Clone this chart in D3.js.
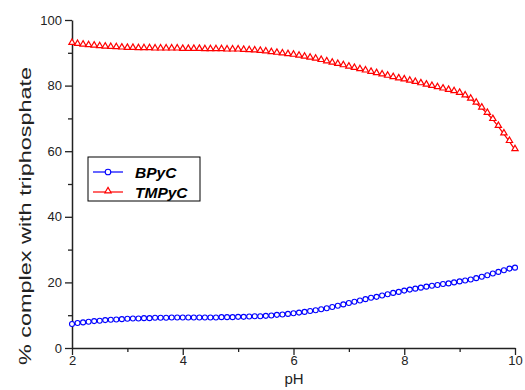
<!DOCTYPE html>
<html><head><meta charset="utf-8">
<script src="https://cdn.jsdelivr.net/npm/d3@7"></script>
<style>body{margin:0;background:#fff}svg{display:block}text{font-family:"Liberation Sans",Arial,sans-serif}</style>
</head><body><svg id="c" width="525" height="390"></svg>
<script>
const phStart = 2, phStep = 0.1;
const tmpyc = [92.8,92.5,92.3,92.1,92.0,91.8,91.7,91.6,91.5,91.4,
 91.3,91.3,91.2,91.2,91.2,91.1,91.1,91.1,91.1,91.1,
 91.0,91.0,91.0,91.0,90.9,90.9,90.9,90.9,90.8,90.8,
 90.8,90.7,90.6,90.5,90.4,90.2,90.0,89.8,89.6,89.4,
 89.2,88.9,88.6,88.3,88.0,87.6,87.2,86.8,86.4,86.0,
 85.6,85.2,84.8,84.4,84.0,83.6,83.2,82.8,82.4,82.0,
 81.7,81.3,80.9,80.5,80.1,79.7,79.3,78.9,78.5,78.1,
 77.6,76.8,75.8,74.6,73.1,71.5,69.6,67.5,65.2,62.9,60.4];
const bpyc = [7.3,7.6,7.8,8.0,8.2,8.3,8.5,8.6,8.7,8.8,
 8.9,9.0,9.0,9.1,9.1,9.2,9.2,9.2,9.3,9.3,
 9.3,9.3,9.3,9.3,9.3,9.3,9.3,9.4,9.4,9.4,
 9.5,9.5,9.6,9.7,9.7,9.8,9.9,10.1,10.2,10.4,
 10.6,10.8,11.0,11.3,11.5,11.8,12.1,12.5,12.9,13.3,
 13.7,14.1,14.5,14.9,15.3,15.6,16.0,16.4,16.8,17.1,
 17.5,17.8,18.1,18.4,18.7,19.0,19.2,19.5,19.7,20.0,
 20.3,20.6,20.9,21.3,21.7,22.2,22.7,23.2,23.7,24.2,24.5];
const xTicks = [2,4,6,8,10];
const xMinor = [3,5,7,9];
const yTicks = [0,20,40,60,80,100];
const yMinor = [10,30,50,70,90];
const seriesNames = ["BPyC","TMPyC"];
const seriesColors = ["#0000ff","#ff0000"];

const svg = d3.select("#c");
const x = d3.scaleLinear().domain([2,10]).range([72,515]);
const y = d3.scaleLinear().domain([0,100]).range([348,20]);
const ph = i => phStart + i*phStep;

// axes
const ax = svg.append("g").attr("transform","translate(0,348)")
  .call(d3.axisBottom(x).tickValues(xTicks).tickSize(7).tickSizeOuter(0).tickFormat(d3.format("d")));
svg.append("g").attr("transform","translate(0,348)")
  .call(d3.axisBottom(x).tickValues(xMinor).tickSize(4).tickSizeOuter(0).tickFormat(""))
  .select(".domain").remove();
const ay = svg.append("g").attr("transform","translate(72,0)")
  .call(d3.axisLeft(y).tickValues(yTicks).tickSize(7).tickSizeOuter(0));
svg.append("g").attr("transform","translate(72,0)")
  .call(d3.axisLeft(y).tickValues(yMinor).tickSize(4).tickSizeOuter(0).tickFormat(""))
  .select(".domain").remove();
svg.selectAll(".domain").attr("stroke","#222").attr("stroke-width",1.5);
svg.selectAll(".tick line").attr("stroke","#222").attr("stroke-width",1.3);
svg.selectAll(".tick text").attr("font-size",13).attr("fill","#222")
  .style("font-family","'Liberation Sans',Arial,sans-serif");
ax.selectAll(".tick text").attr("dy","0.6em").attr("y",9);
ay.selectAll(".tick text").attr("x",-10);

// labels
svg.append("text").attr("x",294).attr("y",384).attr("text-anchor","middle")
  .attr("font-size",15).attr("fill","#222").text("pH");
svg.append("text").attr("transform","translate(31,216) rotate(-90)").attr("text-anchor","middle")
  .attr("font-size",17).attr("fill","#222").attr("textLength",298).attr("lengthAdjust","spacingAndGlyphs")
  .text("% complex with triphosphate");

const line = d3.line().x((d,i)=>x(ph(i))).y(d=>y(d));
const tri = d3.symbol().type(d3.symbolTriangle).size(17);

// red
svg.append("path").datum(tmpyc).attr("d",line).attr("fill","none").attr("stroke",seriesColors[1]).attr("stroke-width",1.2);
svg.append("g").selectAll("path").data(tmpyc).join("path")
  .attr("d",tri).attr("transform",(d,i)=>`translate(${x(ph(i))},${y(d)-1})`)
  .attr("fill","#fff").attr("stroke",seriesColors[1]).attr("stroke-width",1.2);
// blue
svg.append("path").datum(bpyc).attr("d",line).attr("fill","none").attr("stroke",seriesColors[0]).attr("stroke-width",1.2);
svg.append("g").selectAll("circle").data(bpyc).join("circle")
  .attr("cx",(d,i)=>x(ph(i))).attr("cy",d=>y(d)).attr("r",2.5)
  .attr("fill","#fff").attr("stroke",seriesColors[0]).attr("stroke-width",1.1);

// legend
const lg = svg.append("g");
lg.append("rect").attr("x",88).attr("y",157).attr("width",112).attr("height",44)
  .attr("fill","#fff").attr("stroke","#000").attr("stroke-width",1);
seriesNames.forEach((n,k)=>{
  const yy = 172 + k*20;
  lg.append("line").attr("x1",93).attr("x2",123).attr("y1",yy).attr("y2",yy)
    .attr("stroke",seriesColors[k]).attr("stroke-width",1.2);
  if(k===0){
    lg.append("circle").attr("cx",108).attr("cy",yy).attr("r",2.8).attr("fill","#fff")
      .attr("stroke",seriesColors[k]).attr("stroke-width",1.1);
  } else {
    lg.append("path").attr("d",tri).attr("transform",`translate(108,${yy-1})`).attr("fill","#fff")
      .attr("stroke",seriesColors[k]).attr("stroke-width",1.2);
  }
  lg.append("text").attr("x",135).attr("y",yy+5.5).attr("font-size",15.5)
    .attr("font-weight","bold").attr("font-style","italic").attr("fill","#000").text(n);
});
</script></body></html>
